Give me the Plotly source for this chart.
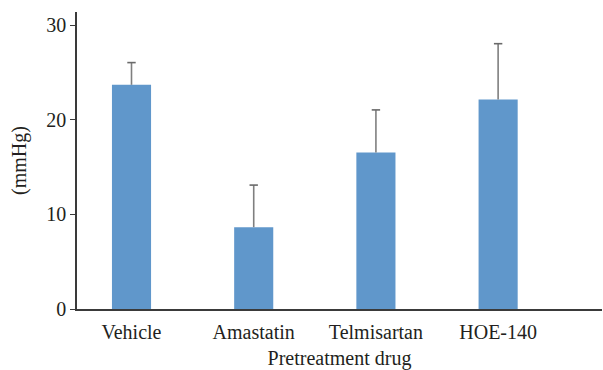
import plotly.graph_objects as go

# Pretreatment groups and their mean pressure change with upper SD
drugs = ["Vehicle", "Amastatin", "Telmisartan", "HOE-140"]
mean_mmhg = [23.7, 8.65, 16.55, 22.15]
sd_mmhg = [2.35, 4.45, 4.5, 5.9]
y_ticks = [0, 10, 20, 30]

serif = "Liberation Serif"
ink = "#231f20"
fsize = 20

upper = [m + s for m, s in zip(mean_mmhg, sd_mmhg)]

fig = go.Figure()
fig.add_trace(
    go.Bar(
        x=drugs,
        y=mean_mmhg,
        marker=dict(color="#6097cb", line=dict(width=0)),
        error_y=dict(
            type="data",
            array=sd_mmhg,
            symmetric=False,
            arrayminus=[0] * len(sd_mmhg),
            color="#7f7f7f",
            thickness=1.6,
            width=0,
        ),
    )
)
# small caps on the upper whiskers only
fig.add_trace(
    go.Scatter(
        x=drugs,
        y=upper,
        mode="markers",
        marker=dict(symbol="line-ew", size=6, line=dict(color="#6a6a6a", width=1.6)),
        hoverinfo="skip",
    )
)

fig.update_layout(
    width=603,
    height=370,
    margin=dict(l=77, r=1, t=12, b=61),
    paper_bgcolor="white",
    plot_bgcolor="white",
    bargap=0.68,
    showlegend=False,
    font=dict(family=serif, size=fsize, color=ink),
)

fig.update_xaxes(
    range=[-0.446, 3.85],
    showline=True,
    linecolor="#3a3a3a",
    linewidth=1.6,
    ticks="",
    ticklabelstandoff=4,
    showgrid=False,
    tickfont=dict(family=serif, size=fsize, color=ink),
    title=dict(text="Pretreatment drug", font=dict(family=serif, size=fsize, color=ink), standoff=10),
)

fig.update_yaxes(
    range=[0, 31.4],
    tickvals=y_ticks,
    showline=True,
    linecolor="#3a3a3a",
    linewidth=1.6,
    ticks="outside",
    ticklen=5,
    tickcolor="#3a3a3a",
    tickwidth=1.4,
    showgrid=False,
    zeroline=False,
    tickfont=dict(family=serif, size=fsize, color=ink),
    title=dict(text="(mmHg)", font=dict(family=serif, size=fsize, color=ink), standoff=14),
)

fig.write_html("out.html")
